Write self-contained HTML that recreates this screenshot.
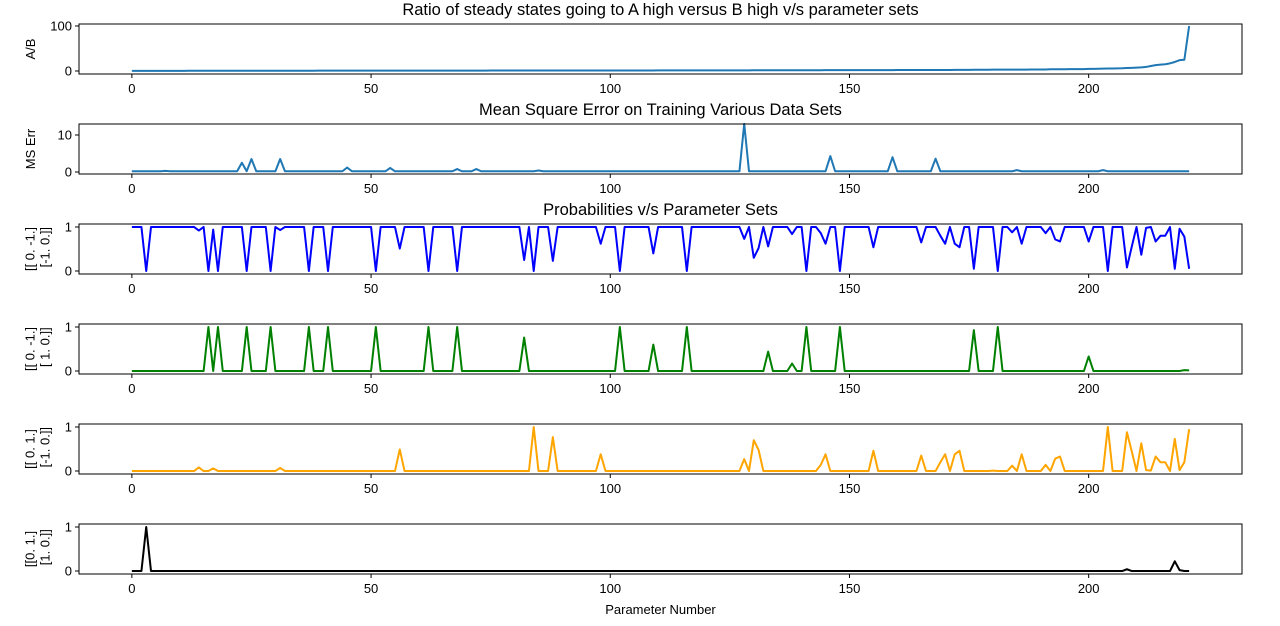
<!DOCTYPE html>
<html><head><meta charset="utf-8"><style>
body{margin:0;background:#fff;}
svg{display:block;font-family:"Liberation Sans","DejaVu Sans",sans-serif;}
</style></head><body>
<svg id="fig" width="1280" height="626" viewBox="0 0 1280 626" xmlns="http://www.w3.org/2000/svg"></svg>
<script>
const N = 222;
const xTicks = [0, 50, 100, 150, 200];
const ratioValues = [
0.2,0.2,0.2,0.2,0.3,0.3,0.3,0.3,0.3,0.3,0.3,0.3,0.4,0.4,0.4,0.4,0.4,0.4,0.4,0.4,
0.4,0.4,0.5,0.5,0.5,0.5,0.5,0.5,0.5,0.5,0.5,0.6,0.6,0.6,0.6,0.6,0.6,0.6,0.6,0.7,
0.7,0.7,0.7,0.7,0.7,0.7,0.7,0.7,0.7,0.7,0.8,0.8,0.8,0.8,0.8,0.8,0.8,0.8,0.8,0.8,
0.8,0.8,0.8,0.8,0.8,0.9,0.9,0.9,0.9,0.9,0.9,0.9,0.9,0.9,0.9,1.0,1.0,1.0,1.0,1.0,
1.0,1.0,1.0,1.0,1.0,1.0,1.0,1.0,1.0,1.0,1.1,1.1,1.1,1.1,1.1,1.1,1.1,1.1,1.1,1.1,
1.2,1.2,1.2,1.2,1.2,1.2,1.2,1.2,1.2,1.2,1.3,1.3,1.3,1.3,1.3,1.3,1.3,1.3,1.3,1.3,
1.4,1.4,1.4,1.4,1.4,1.4,1.4,1.4,1.4,1.4,1.5,1.5,1.5,1.5,1.5,1.6,1.6,1.6,1.6,1.6,
1.7,1.7,1.7,1.7,1.7,1.8,1.8,1.8,1.8,1.8,1.9,1.9,1.9,1.9,1.9,2.0,2.0,2.0,2.0,2.0,
2.1,2.1,2.1,2.1,2.2,2.2,2.2,2.2,2.3,2.3,2.3,2.3,2.5,2.5,2.5,2.5,2.7,2.7,2.7,2.7,
2.9,2.9,2.9,2.9,3.1,3.1,3.1,3.1,3.4,3.4,3.4,3.4,3.8,3.8,3.8,3.8,4.2,4.2,4.2,4.2,
4.6,4.8,5.0,5.2,5.4,5.6,5.8,6,6.5,7,7.5,8,9,11,13,14,15,17,20,24,25,100];
const mseBaseline = 0.2;
const mseSpikes = [[7,0.3],[23,2.5],[24,0.2],[25,3.5],[31,3.5],[45,1.2],[54,1.1],[68,0.8],[72,0.8],[85,0.4],[128,13],[146,4.3],[159,4.0],[168,3.6],[185,0.5],[203,0.5]];
const probABaseline = 1;
const probADips = [[3,0],[14,0.92],[16,0],[17,0.94],[18,0],[24,0],[29,0],[31,0.93],[37,0],[41,0],[51,0],[56,0.51],[62,0],[68,0],[82,0.25],[84,0],[88,0.23],[98,0.62],[102,0],[109,0.4],[116,0],[128,0.73],[130,0.3],[131,0.52],[133,0.56],[138,0.84],[141,0],[144,0.86],[145,0.62],[148,0],[155,0.54],[165,0.65],[169,0.8],[170,0.62],[172,0.62],[173,0.54],[176,0.05],[181,0],[184,0.88],[186,0.62],[191,0.86],[193,0.72],[194,0.67],[200,0.67],[204,0],[208,0.08],[209,0.55],[211,0.37],[212,0.98],[214,0.67],[215,0.8],[216,0.8],[218,0.05],[219,0.96],[220,0.78],[221,0.05]];
const probBBaseline = 0;
const probBSpikes = [[16,1],[18,1],[24,1],[29,1],[37,1],[41,1],[51,1],[62,1],[68,1],[82,0.76],[102,1],[109,0.6],[116,1],[133,0.44],[138,0.17],[141,1],[148,1],[176,0.93],[181,1],[200,0.33],[220,0.02],[221,0.015]];
const probCBaseline = 0;
const probCSpikes = [[14,0.08],[17,0.06],[31,0.07],[56,0.49],[84,1.0],[88,0.77],[98,0.38],[128,0.27],[130,0.7],[131,0.48],[144,0.14],[145,0.38],[155,0.46],[165,0.35],[169,0.2],[170,0.38],[172,0.38],[173,0.46],[180,0.01],[184,0.12],[186,0.38],[191,0.14],[193,0.28],[194,0.33],[200,0.0],[204,1.0],[208,0.88],[209,0.45],[211,0.63],[212,0.02],[213,0.01],[214,0.33],[215,0.2],[216,0.2],[218,0.73],[219,0.02],[220,0.2],[221,0.95]];
const probDBaseline = 0;
const probDSpikes = [[3,1],[208,0.04],[218,0.22],[219,0.02]];

function expand(base, pairs){ const a=new Array(N).fill(base); pairs.forEach(p=>{a[p[0]]=p[1];}); return a; }

const NS="http://www.w3.org/2000/svg";
const svg=document.getElementById('fig');
function mk(tag, attrs, parent){ const e=document.createElementNS(NS,tag); for(const k in attrs) e.setAttribute(k,attrs[k]); (parent||svg).appendChild(e); return e; }

const L=79, W=1163, H=50;
const xMin=-11.05, xMax=232.05;
const xs = v => L + (v-xMin)/(xMax-xMin)*W;

const panels = [
 {name:'ratio', top:24, ymin:-6.7, ymax:104.4, yt:[0,100], data:ratioValues, color:'#1f77b4', ylabel:['A/B'], title:'Ratio of steady states going to A high versus B high v/s parameter sets'},
 {name:'mse', top:124, ymin:-0.54, ymax:12.97, yt:[0,10], data:expand(mseBaseline,mseSpikes), color:'#1f77b4', ylabel:['MS Err'], title:'Mean Square Error on Training Various Data Sets'},
 {name:'prob-a', top:224, ymin:-0.068, ymax:1.068, yt:[0,1], data:expand(probABaseline,probADips), color:'#0000ff', ylabel:['[[ 0. -1.]',' [-1.  0.]]'], title:'Probabilities v/s Parameter Sets'},
 {name:'prob-b', top:324, ymin:-0.068, ymax:1.068, yt:[0,1], data:expand(probBBaseline,probBSpikes), color:'#008000', ylabel:['[[ 0. -1.]',' [ 1.  0.]]']},
 {name:'prob-c', top:424, ymin:-0.068, ymax:1.068, yt:[0,1], data:expand(probCBaseline,probCSpikes), color:'#ffa500', ylabel:['[[ 0.  1.]',' [-1.  0.]]']},
 {name:'prob-d', top:524, ymin:-0.068, ymax:1.068, yt:[0,1], data:expand(probDBaseline,probDSpikes), color:'#000000', ylabel:['[[0. 1.]',' [1. 0.]]']}
];

panels.forEach(p=>{
  const g=mk('g',{});
  
  
  const ys = v => p.top + H - (v-p.ymin)/(p.ymax-p.ymin)*H;
  const pts = p.data.map((v,i)=>xs(i).toFixed(2)+','+ys(v).toFixed(2)).join(' ');
  const line=mk('polyline',{points:pts, fill:'none', stroke:p.color, 'stroke-width':2, 'stroke-linejoin':'round'}, g);
  
  
  const frame=mk('rect',{x:L, y:p.top, width:W, height:H, fill:'none', stroke:'#000', 'stroke-width':1}, g);
  
  
  xTicks.forEach(t=>{
    const x=xs(t);
    mk('line',{x1:x,x2:x,y1:p.top+H,y2:p.top+H+4,stroke:'#000','stroke-width':1},g);
    const tx=mk('text',{x:x,y:p.top+H+19,'text-anchor':'middle','font-size':13,fill:'#000'},g);
    tx.textContent=t;
    
    
  });
  p.yt.forEach(t=>{
    const y=ys(t);
    mk('line',{x1:L-4,x2:L,y1:y,y2:y,stroke:'#000','stroke-width':1},g);
    const tx=mk('text',{x:L-7,y:y+4.5,'text-anchor':'end','font-size':13,fill:'#000'},g);
    tx.textContent=t;
    
    
  });
  const cy=p.top+H/2;
  const n=p.ylabel.length;
  const lx = n===1 ? 35 : 42;
  const lab=mk('text',{transform:'translate('+lx+','+cy+') rotate(-90)','text-anchor':'middle','font-size':13,fill:'#000','xml:space':'preserve'},g);
  
  
  p.ylabel.forEach((s,i)=>{
    const ts=mk('tspan',{x:0, y:(i-(n-1)/2)*15},lab);
    ts.textContent=s;
  });
  if(p.title){
    const tt=mk('text',{x:L+W/2,y:p.top-9,'text-anchor':'middle','font-size':16.5,fill:'#000'},g);
    tt.textContent=p.title;
    
    
  }
});
const xl=mk('text',{x:L+W/2,y:614,'text-anchor':'middle','font-size':13,fill:'#000'});
xl.textContent='Parameter Number';


</script>
</body></html>
